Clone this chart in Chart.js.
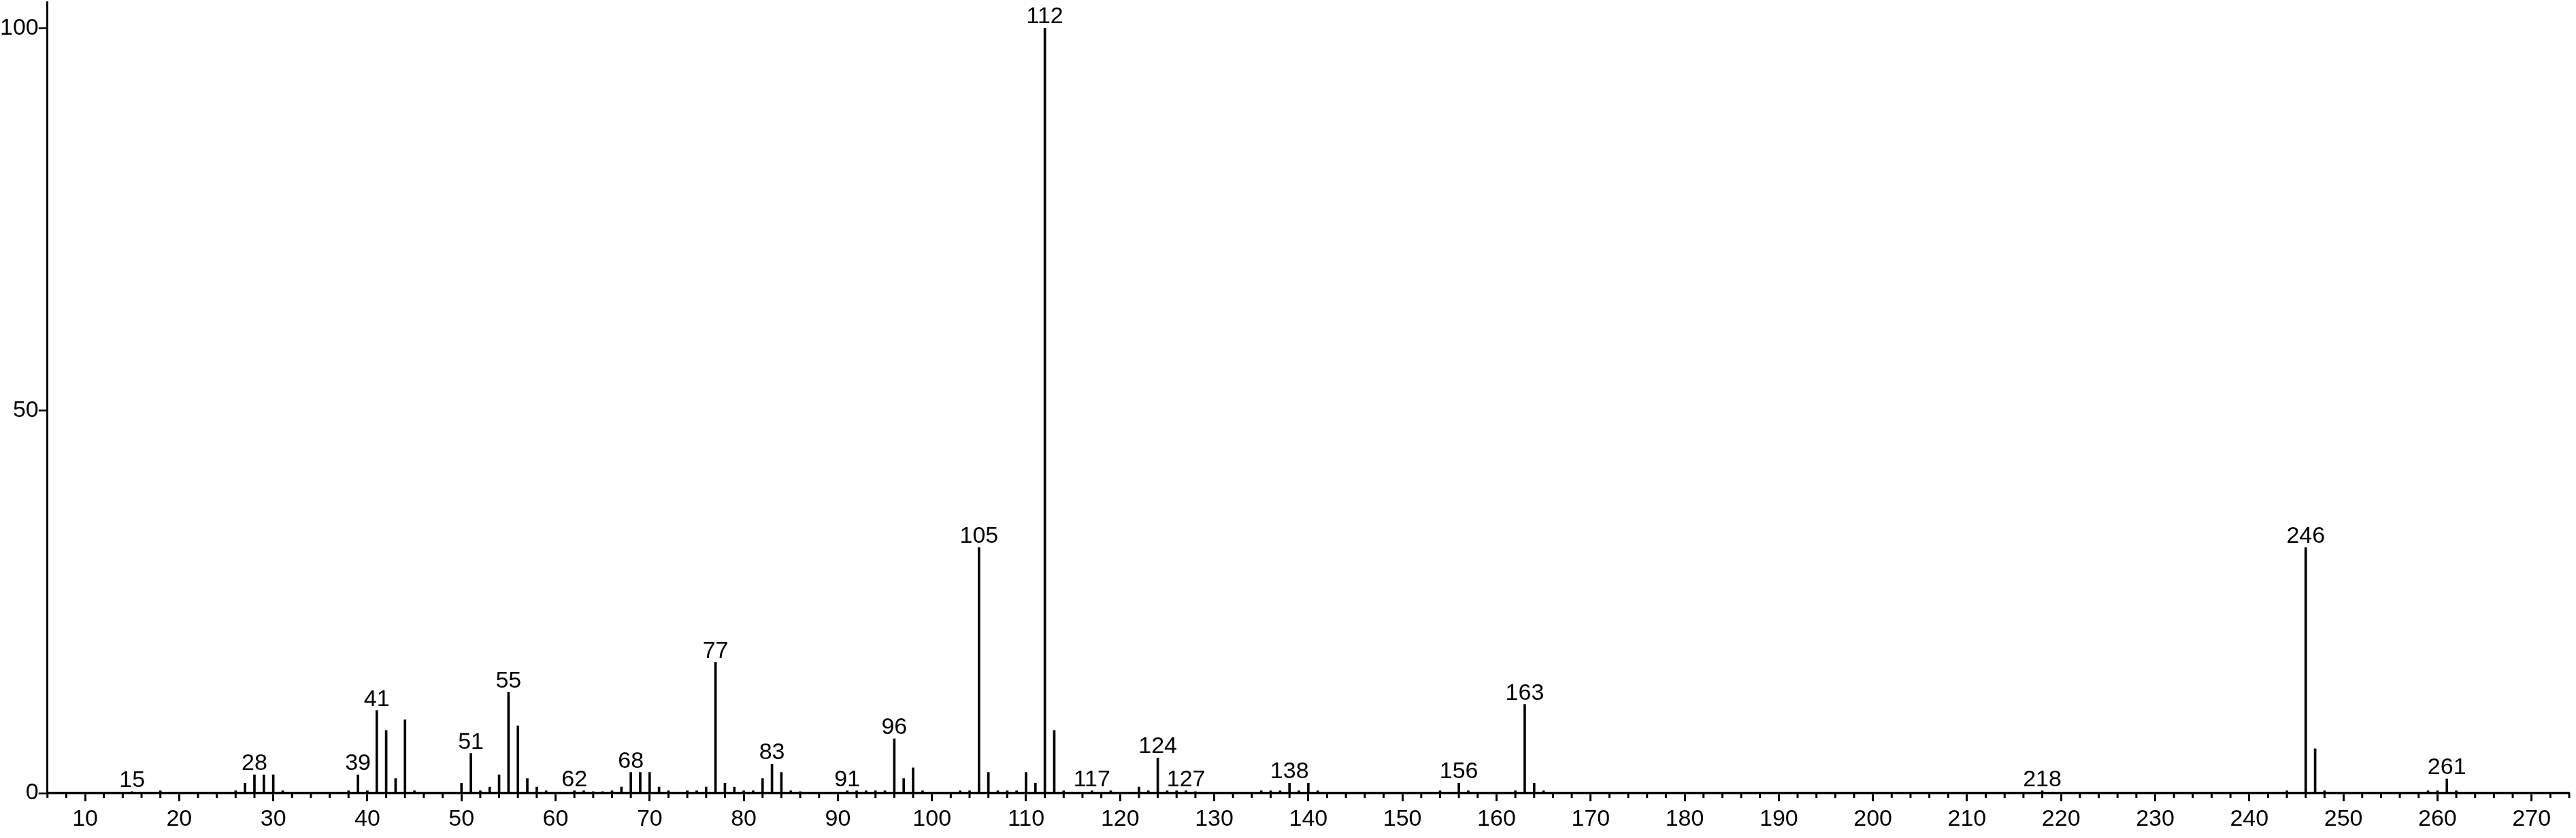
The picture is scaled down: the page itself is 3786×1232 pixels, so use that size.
<!DOCTYPE html>
<html>
<head>
<meta charset="utf-8">
<script src="https://cdn.jsdelivr.net/npm/chart.js@4.4.1/dist/chart.umd.min.js"></script>
<style>
  html, body { margin: 0; padding: 0; background: #fff; }
  #wrap { width: 3786px; height: 1232px; position: relative; }
</style>
</head>
<body>
<div id="wrap"><canvas id="chart"></canvas></div>
<script>
// m/z values and relative intensities
const masses = [
  15, 18, 26, 27, 28, 29, 30, 31, 38, 39, 40, 41, 42, 43, 44, 45,
  50, 51, 52, 53, 54, 55, 56, 57, 58, 59, 62, 63, 64, 65, 66, 67, 68, 69, 70,
  71, 72, 74, 75, 76, 77, 78, 79, 80, 81, 82, 83, 84, 85, 86,
  91, 92, 93, 94, 95, 96, 97, 98, 99, 103, 104, 105, 106, 107, 108, 109, 110,
  111, 112, 113, 114, 117, 119, 122, 123, 124, 125, 126, 127, 128,
  135, 136, 137, 138, 139, 140, 141, 154, 156, 157, 162, 163, 164, 165,
  218, 244, 246, 247, 248, 259, 260, 261, 262
];
const intensities = [
  0.2, 0.3, 0.3, 1.3, 2.4, 2.4, 2.4, 0.3, 0.3, 2.4, 0.3, 10.8, 8.2, 1.9, 9.6, 0.3,
  1.3, 5.2, 0.3, 0.8, 2.4, 13.2, 8.8, 1.9, 0.8, 0.3, 0.3, 0.3, 0.2, 0.2, 0.3, 0.8, 2.7, 2.7, 2.7,
  0.8, 0.3, 0.3, 0.3, 0.8, 17.1, 1.3, 0.8, 0.3, 0.3, 1.9, 3.8, 2.7, 0.3, 0.2,
  0.3, 0.3, 0.3, 0.3, 0.3, 7.1, 1.9, 3.3, 0.3, 0.3, 0.3, 32.1, 2.7, 0.3, 0.3, 0.3, 2.7,
  1.3, 100, 8.2, 0.3, 0.3, 0.3, 0.8, 0.3, 4.6, 0.3, 0.3, 0.3, 0.2,
  0.3, 0.3, 0.3, 1.3, 0.3, 1.3, 0.3, 0.3, 1.3, 0.3, 0.3, 11.6, 1.3, 0.3,
  0.3, 0.3, 32.1, 5.8, 0.3, 0.3, 0.3, 1.85, 0.3
];
// peaks that carry an m/z label
const labelledMasses = [15, 28, 39, 41, 51, 55, 62, 68, 77, 83, 91, 96, 105, 112,
  117, 124, 127, 138, 156, 163, 218, 246, 261];

const xTickLabels = [10, 20, 30, 40, 50, 60, 70, 80, 90, 100, 110, 120, 130, 140,
  150, 160, 170, 180, 190, 200, 210, 220, 230, 240, 250, 260, 270];
const yTickValues = [0, 50, 100];

const FONT = "'Liberation Sans', Arial, sans-serif";

const peakLabels = {
  id: 'peakLabels',
  afterDatasetsDraw(chart) {
    const ctx = chart.ctx;
    const meta = chart.getDatasetMeta(0);
    ctx.save();
    ctx.font = '34px ' + FONT;
    ctx.fillStyle = '#000';
    ctx.textAlign = 'center';
    ctx.textBaseline = 'alphabetic';
    labelledMasses.forEach(m => {
      const i = masses.indexOf(m);
      if (i < 0) return;
      const bar = meta.data[i];
      ctx.fillText(String(m), bar.x, bar.y - 7);
    });
    ctx.restore();
  }
};

// short ticks between the labelled ones
const minorTicks = {
  id: 'minorTicks',
  afterDraw(chart) {
    const x = chart.scales.x;
    const ctx = chart.ctx;
    ctx.save();
    ctx.strokeStyle = '#000';
    ctx.lineWidth = 3;
    ctx.beginPath();
    x.ticks.forEach(t => {
      if (t.value % 10 === 0) return;
      const px = x.getPixelForValue(t.value);
      ctx.moveTo(px, x.top);
      ctx.lineTo(px, x.top + 7);
    });
    ctx.stroke();
    ctx.restore();
  }
};

new Chart(document.getElementById('chart'), {
  type: 'bar',
  data: {
    datasets: [{
      data: masses.map((m, i) => ({ x: m, y: intensities[i] })),
      backgroundColor: '#000',
      borderWidth: 0,
      barThickness: 3
    }]
  },
  options: {
    responsive: true,
    maintainAspectRatio: false,
    animation: false,
    layout: { autoPadding: false, padding: { left: 0, top: 3, right: 3, bottom: 0 } },
    plugins: { legend: { display: false }, tooltip: { enabled: false } },
    scales: {
      x: {
        type: 'linear',
        min: 6,
        max: 274,
        offset: false,
        grid: {
          offset: false,
          drawOnChartArea: false,
          tickLength: 12,
          tickWidth: 3,
          tickColor: c => (c.tick && c.tick.value % 10 === 0) ? '#000' : 'rgba(0,0,0,0)'
        },
        border: { color: '#000', width: 3.5 },
        ticks: {
          stepSize: 2,
          autoSkip: false,
          maxRotation: 0,
          includeBounds: false,
          padding: 10,
          color: '#000',
          font: { family: FONT, size: 34, lineHeight: 1 },
          callback: v => xTickLabels.includes(v) ? String(v) : ''
        }
      },
      y: {
        min: 0,
        max: 103.4,
        grid: { drawOnChartArea: false, tickLength: 13, tickWidth: 2.5, tickColor: '#000' },
        border: { color: '#000', width: 3 },
        afterBuildTicks: axis => { axis.ticks = yTickValues.map(value => ({ value })); },
        ticks: {
          padding: 0,
          color: '#000',
          font: { family: FONT, size: 34, lineHeight: 0.01 }
        }
      }
    }
  },
  plugins: [peakLabels, minorTicks]
});
</script>
</body>
</html>
